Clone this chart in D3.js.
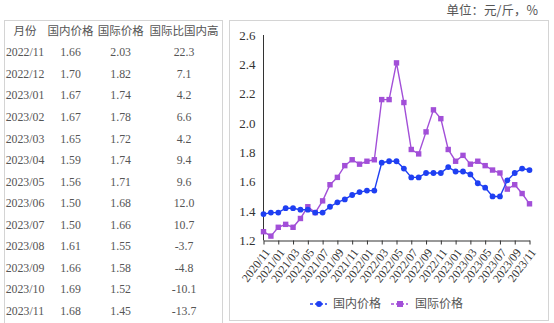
<!DOCTYPE html>
<html><head><meta charset="utf-8">
<script src="https://cdn.jsdelivr.net/npm/d3@7/dist/d3.min.js"></script>
<style>
html,body{margin:0;padding:0;background:#fff;}
svg{display:block;}
</style></head>
<body>
<svg id="c" width="554" height="323"></svg>
<script>
// ---------- data ----------
const tableHeader = ["月份", "国内价格", "国际价格", "国际比国内高"];
const tableMonths = ["2022/11","2022/12","2023/01","2023/02","2023/03","2023/04","2023/05","2023/06","2023/07","2023/08","2023/09","2023/10","2023/11"];
const tableDomestic = ["1.66","1.70","1.67","1.67","1.65","1.59","1.56","1.50","1.50","1.61","1.66","1.69","1.68"];
const tableIntl = ["2.03","1.82","1.74","1.78","1.72","1.74","1.71","1.68","1.66","1.55","1.58","1.52","1.45"];
const tableDiff = ["22.3","7.1","4.2","6.6","4.2","9.4","9.6","12.0","10.7","-3.7","-4.8","-10.1","-13.7"];

const months = ["2020/11","2020/12","2021/01","2021/02","2021/03","2021/04","2021/05","2021/06","2021/07","2021/08","2021/09","2021/10",
"2021/11","2021/12","2022/01","2022/02","2022/03","2022/04","2022/05","2022/06","2022/07","2022/08","2022/09","2022/10",
"2022/11","2022/12","2023/01","2023/02","2023/03","2023/04","2023/05","2023/06","2023/07","2023/08","2023/09","2023/10","2023/11"];
const domestic = [1.38,1.39,1.39,1.42,1.42,1.41,1.41,1.39,1.39,1.43,1.46,1.48,1.51,1.53,1.54,1.54,1.73,1.74,1.74,1.69,1.63,1.63,1.66,1.66,
1.66,1.70,1.67,1.67,1.65,1.59,1.56,1.50,1.50,1.61,1.66,1.69,1.68];
const intl = [1.26,1.23,1.29,1.31,1.29,1.35,1.43,1.39,1.47,1.58,1.63,1.71,1.75,1.72,1.74,1.75,2.16,2.16,2.41,2.14,1.82,1.79,1.94,2.09,
2.03,1.82,1.74,1.78,1.72,1.74,1.71,1.68,1.66,1.55,1.58,1.52,1.45];
const yTicks = [1.2,1.4,1.6,1.8,2.0,2.2,2.4,2.6];
const seriesNames = ["国内价格","国际价格"];
const unitText = "单位：元/斤，%";

// ---------- styles ----------
const BLUE = "#1f3ff2", PURPLE = "#a24fd8";
const serif = "'Liberation Serif','Times New Roman',serif";
const cjk = "'Noto Sans CJK SC','Noto Sans',sans-serif";

const svg = d3.select("#c");

// ---------- table ----------
svg.append("rect").attr("x",4.5).attr("y",20.5).attr("width",218).attr("height",310)
  .attr("fill","none").attr("stroke","#d4d4d4");
const colX = [25, 70.5, 120.7, 184];
tableHeader.forEach((h,i)=>{
  svg.append("text").attr("x",colX[i]).attr("y",31).attr("dy","0.36em")
    .attr("text-anchor","middle").attr("font-family",cjk).attr("font-size",11.5)
    .attr("fill","#555").text(h);
});
const rowY = d3.scalePoint().domain(tableMonths).range([52.3, 310.7]);
const cols = [tableMonths, tableDomestic, tableIntl, tableDiff];
cols.forEach((col,ci)=>{
  svg.append("g").selectAll("text").data(col).join("text")
    .attr("x",colX[ci]).attr("y",(d,i)=>rowY(tableMonths[i])).attr("dy","0.35em")
    .attr("text-anchor","middle").attr("font-family",serif).attr("font-size",11.8)
    .attr("fill","#555").text(d=>d);
});

// ---------- chart frame ----------
svg.append("rect").attr("x",229.5).attr("y",20.5).attr("width",319).attr("height",300)
  .attr("fill","none").attr("stroke","#d4d4d4");
svg.append("text").attr("x",538).attr("y",11).attr("dy","0.35em").attr("text-anchor","end")
  .attr("font-family",cjk).attr("font-size",12.5).attr("fill","#555").text(unitText);

const x = d3.scalePoint().domain(months).range([263.5, 529.5]);
const y = d3.scaleLinear().domain([1.2, 2.6]).range([240.5, 35]);

// y axis
const ya = svg.append("g").attr("transform","translate(263.5,0)")
  .call(d3.axisLeft(y).tickValues(yTicks).tickFormat(d3.format(".1f")).tickSize(0).tickPadding(8));
ya.select(".domain").attr("stroke","#333").attr("d","M0,35V240.5");
ya.selectAll("text").attr("font-family",serif).attr("font-size",13).attr("fill","#333");

// x axis
const xa = svg.append("g").attr("transform","translate(0,240.5)")
  .call(d3.axisBottom(x).tickValues(months.filter((d,i)=>i%2===0)).tickSize(4).tickSizeOuter(0));
xa.select(".domain").attr("stroke","#333");
xa.selectAll(".tick line").attr("stroke","#333");
xa.selectAll("text").attr("font-family",serif).attr("font-size",11.8).attr("fill","#333")
  .attr("text-anchor","end").attr("dy",0).attr("y",0)
  .attr("transform","translate(6.5,12) rotate(-53)");

// lines
const line = d3.line().x((d,i)=>x(months[i])).y(d=>y(d));
svg.append("path").datum(intl).attr("d",line).attr("fill","none").attr("stroke",PURPLE).attr("stroke-width",1.4);
svg.append("path").datum(domestic).attr("d",line).attr("fill","none").attr("stroke",BLUE).attr("stroke-width",1.4);
svg.append("g").selectAll("rect").data(intl).join("rect")
  .attr("x",(d,i)=>x(months[i])-2.7).attr("y",d=>y(d)-2.7).attr("width",5.4).attr("height",5.4).attr("fill",PURPLE);
svg.append("g").selectAll("circle").data(domestic).join("circle")
  .attr("cx",(d,i)=>x(months[i])).attr("cy",d=>y(d)).attr("r",2.9).attr("fill",BLUE);

// legend
const lg = svg.append("g");
lg.append("line").attr("x1",310).attr("x2",327).attr("y1",304).attr("y2",304).attr("stroke",BLUE).attr("stroke-width",1.4).attr("stroke-dasharray","3,2");
lg.append("circle").attr("cx",319).attr("cy",304).attr("r",3).attr("fill",BLUE);
lg.append("text").attr("x",333).attr("y",304).attr("dy","0.36em").attr("font-family",cjk).attr("font-size",12).attr("fill","#555").text(seriesNames[0]);
lg.append("line").attr("x1",391).attr("x2",408).attr("y1",304).attr("y2",304).attr("stroke",PURPLE).attr("stroke-width",1.4).attr("stroke-dasharray","3,2");
lg.append("rect").attr("x",397).attr("y",301).attr("width",6).attr("height",6).attr("fill",PURPLE);
lg.append("text").attr("x",415).attr("y",304).attr("dy","0.36em").attr("font-family",cjk).attr("font-size",12).attr("fill","#555").text(seriesNames[1]);
</script>
</body></html>
